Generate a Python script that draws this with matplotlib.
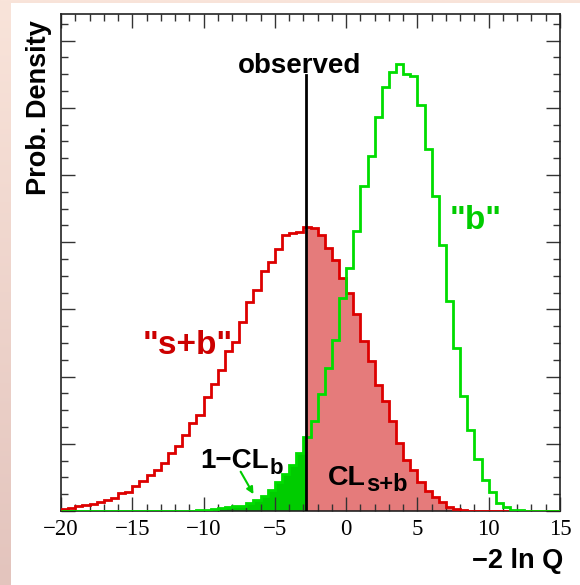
import numpy as np
import matplotlib
matplotlib.use("Agg")
import matplotlib.pyplot as plt
from matplotlib.patches import Rectangle
from matplotlib.ticker import MultipleLocator

# ---- data -------------------------------------------------------------
bin_edges = np.arange(-20.0, 15.0 + 0.25, 0.5)   # 70 bins of width 0.5

splusb = [0.0006, 0.0009, 0.0015, 0.0018, 0.0022, 0.0028, 0.0033, 0.0039, 0.0054, 0.0058,
          0.0073, 0.0088, 0.0106, 0.0121, 0.0143, 0.0173, 0.0192, 0.0225, 0.0263, 0.0287,
          0.0339, 0.0379, 0.0421, 0.0476, 0.0502, 0.0562, 0.0622, 0.0659, 0.0715, 0.0742,
          0.0779, 0.0821, 0.0828, 0.0831, 0.0844, 0.0841, 0.0821, 0.0782, 0.0747, 0.0693,
          0.0650, 0.0586, 0.0507, 0.0447, 0.0375, 0.0327, 0.0269, 0.0201, 0.0153, 0.0122,
          0.0086, 0.0060, 0.0041, 0.0026, 0.0013, 0.0006, 0.0003, 0.0001, 0.0, 0.0,
          0.0, 0.0, 0.0, 0.0, 0.0, 0.0, 0.0, 0.0, 0.0, 0.0]

bonly = [0.0, 0.0, 0.0, 0.0, 0.0, 0.0, 0.0, 0.0, 0.0, 0.0,
         0.0, 0.0, 0.0, 0.0, 0.0, 0.0, 0.0, 0.0, 0.0, 0.0003,
         0.0004, 0.0006, 0.0009, 0.0012, 0.0015, 0.0015, 0.0025, 0.0033, 0.0045, 0.0063,
         0.0087, 0.0109, 0.0137, 0.0174, 0.0220, 0.0268, 0.0348, 0.0426, 0.0508, 0.0634,
         0.0723, 0.0833, 0.0967, 0.1057, 0.1174, 0.1261, 0.1307, 0.1330, 0.1301, 0.1295,
         0.1208, 0.1077, 0.0938, 0.0792, 0.0625, 0.0484, 0.0343, 0.0241, 0.0154, 0.0092,
         0.0056, 0.0025, 0.0011, 0.0003, 0.0003, 0.0, 0.0, 0.0, 0.0, 0.0]

observed = -2.85
observed_line_top = 0.1298

xlim = (-20, 15)
ylim = (0, 0.148)

# ---- figure -----------------------------------------------------------
W, H = 580, 585
fig = plt.figure(figsize=(W / 100, H / 100), dpi=100)

# pinkish gradient background
bg = fig.add_axes([0, 0, 1, 1], zorder=-10)
yy = np.linspace(0, 1, 200)[:, None, None]
c_top = np.array([249, 228, 218]) / 255.0
c_bot = np.array([227, 196, 189]) / 255.0
grad = c_top[None, None, :] * (1 - yy) + c_bot[None, None, :] * yy
grad = np.repeat(grad, 4, axis=1)
bg.imshow(np.clip(grad, 0, 1), aspect="auto", extent=[0, 1, 0, 1], origin="upper")
bg.set_xlim(0, 1)
bg.set_ylim(0, 1)
bg.axis("off")
fig.patches.append(Rectangle((11 / W, 0), 1 - 11 / W, 1 - 2.5 / H,
                             transform=fig.transFigure, facecolor="white",
                             edgecolor="none", zorder=-5))

ax = fig.add_axes([61 / W, (H - 511) / H, (560 - 61) / W, (511 - 13.7) / H])
ax.set_facecolor("white")

edges = np.asarray(bin_edges)
sb = np.asarray(splusb)
b = np.asarray(bonly)

# index of bin containing the observed value
k = int(np.searchsorted(edges, observed, side="right") - 1)

# CL_s+b fill (right of observed, s+b hypothesis)
edges_r = np.concatenate([[observed], edges[k + 1:]])
ax.stairs(sb[k:], edges_r, fill=True, color="#e57b7b", zorder=1, linewidth=0)
# 1-CL_b fill (left of observed, b hypothesis)
edges_l = np.concatenate([edges[:k + 1], [observed]])
ax.stairs(b[:k + 1], edges_l, fill=True, color="#00cc00", zorder=1, linewidth=0)

# outlines
ax.stairs(sb, edges, color="#dd0000", linewidth=2.0, zorder=3)
ax.stairs(b, edges, color="#00dd00", linewidth=2.0, zorder=4)

# observed line
ax.plot([observed, observed], [0, observed_line_top], color="black", linewidth=2.0, zorder=5)

ax.set_xlim(*xlim)
ax.set_ylim(*ylim)

# ticks ROOT style
ax.xaxis.set_major_locator(MultipleLocator(5))
ax.xaxis.set_minor_locator(MultipleLocator(1))
ax.yaxis.set_major_locator(MultipleLocator(0.02))
ax.yaxis.set_minor_locator(MultipleLocator(0.005))
ax.tick_params(which="both", direction="in", top=True, right=True, width=1.0, color="#333333")
ax.tick_params(which="major", length=10)
ax.tick_params(which="minor", length=5)
ax.tick_params(axis="y", which="both", labelleft=False)
ax.tick_params(axis="x", which="major", pad=6)
for lab in ax.get_xticklabels():
    lab.set_fontfamily("Liberation Serif")
    lab.set_fontsize(16.5)
for sp in ax.spines.values():
    sp.set_linewidth(1.2)
    sp.set_color("#222222")

sans = "Liberation Sans"
fig.text(39 / W, 1 - 20 / H, "Prob. Density", rotation=90, ha="center", va="top",
         fontfamily=sans, fontweight="bold", fontsize=19.5)
fig.text(563 / W, 1 - 561 / H, "\u22122 ln Q", ha="right", va="center",
         fontfamily=sans, fontweight="bold", fontsize=19.5)

ax.text(-3.27, 0.1305, "observed", ha="center", va="baseline",
        fontfamily=sans, fontweight="bold", fontsize=20)
ax.text(-11.1, 0.0494, '"s+b"', ha="center", va="center", color="#cc0000",
        fontfamily=sans, fontweight="bold", fontsize=24)
ax.text(9.1, 0.0866, '"b"', ha="center", va="center", color="#00cc00",
        fontfamily=sans, fontweight="bold", fontsize=24)

t1 = ax.text(-10.25, 0.0128, "1\u2212CL", ha="left", va="baseline", color="black",
             fontfamily=sans, fontweight="bold", fontsize=20)
ax.annotate("b", xy=(1, 0), xycoords=t1, xytext=(0.5, 0), textcoords="offset points",
            ha="left", va="baseline", fontfamily=sans, fontweight="bold", fontsize=16)

t2 = ax.text(-1.28, 0.0077, "CL", ha="left", va="baseline", color="black",
             fontfamily=sans, fontweight="bold", fontsize=20.5)
ax.annotate("s+b", xy=(1, 0), xycoords=t2, xytext=(0.5, 0), textcoords="offset points",
            ha="left", va="baseline", fontfamily=sans, fontweight="bold", fontsize=17)

ax.annotate("", xy=(-6.5, 0.0050), xytext=(-7.4, 0.0117),
            arrowprops=dict(arrowstyle="-|>", color="#00cc00", lw=1.5,
                            mutation_scale=10, shrinkA=0, shrinkB=0))

fig.savefig("out.png", dpi=100)
